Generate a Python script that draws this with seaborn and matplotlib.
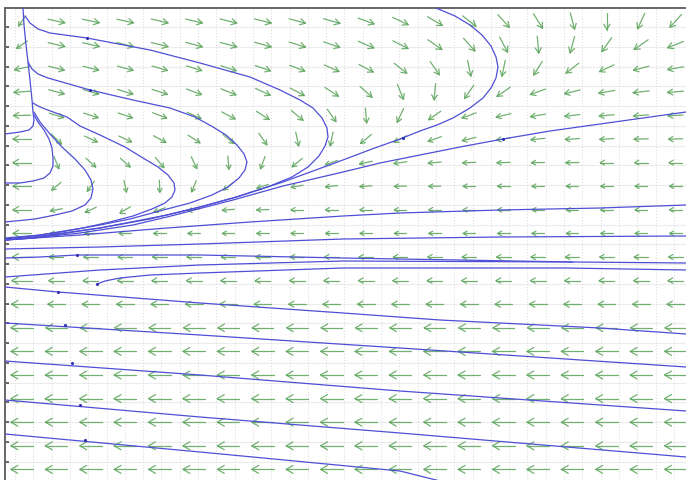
import numpy as np
import seaborn as sns
import matplotlib.pyplot as plt
from matplotlib.collections import LineCollection

sns.set_theme(style='white')

# direction field, read off the picture row by row from the top
# angle in degrees, 0 = pointing right, 90 = pointing up
ANGLES = [
    [-125, -12, -12, -12, -13, -13, -14, -14, -15, -16, -20, -25, -30, -38, -48, -58, -75, -90, -115, -132],
    [-145, -13, -13, -14, -14, -15, -15, -16, -17, -19, -23, -27, -35, -48, -62, -85, -105, -125, -145, -158],
    [-168, -14, -14, -15, -16, -17, -18, -19, -21, -24, -28, -38, -55, -78, -102, -122, -142, -155, -165, -170],
    [-176, -15, -16, -17, -18, -20, -22, -25, -28, -33, -42, -68, -95, -125, -145, -160, -166, -170, -173, -175],
    [-179, -17, -18, -19, -21, -24, -28, -33, -40, -55, -85, -115, -145, -160, -166, -170, -173, -175, -176, -177],
    [180, -45, -25, -25, -28, -33, -40, -55, -78, -102, -140, -152, -160, -166, -170, -174, -176, -177, -178, -178],
    [180, -68, -42, -42, -50, -65, -85, -110, -140, -160, -168, -172, -175, -177, -178, -179, -179, 180, 180, 180],
    [180, -140, -125, -78, -88, -112, -142, -162, -170, -174, -176, -178, -179, 180, 180, 180, 180, 180, 180, 180],
    [180, -170, -155, -150, -160, -170, -175, -178, 180, 180, 180, 180, 180, 180, 180, 180, 180, 180, 180, 180],
] + [[180] * 20 for _ in range(11)]

# arrow lengths (px) per row: first column, other columns
LEN_FIRST = [12, 13, 15, 16, 17, 18, 18, 18, 18, 18, 19, 20, 21, 22, 22, 22, 22, 22, 22, 22]
LEN_REST = [17, 17, 16, 16, 15, 14, 13, 12, 12, 12, 14, 15, 17, 21, 22, 22, 22, 22, 22, 22]

# solution curves, (x, y)
curve_big = [(25, 16), (30, 23), (38, 29), (50, 33), (87, 38), (150, 50), (200, 63), (250, 77),
             (280, 90), (300, 100), (313, 108), (322, 118), (327, 128), (328, 137), (325, 146),
             (319, 156), (308, 167), (292, 177), (270, 186), (233, 198), (200, 207), (167, 215),
             (100, 228), (60, 234), (33, 238), (5, 240)]
curve_mid = [(28, 62), (32, 69), (38, 74), (48, 78), (90, 90), (133, 100), (170, 108), (195, 117),
             (213, 127), (226, 135), (237, 145), (244, 154), (247, 162), (245, 170), (239, 178),
             (228, 187), (212, 195), (190, 203), (167, 209), (130, 219), (100, 225), (60, 232),
             (33, 236), (5, 239)]
curve_small = [(33, 103), (38, 106), (45, 109), (67, 117), (80, 126), (100, 135), (125, 147),
               (143, 158), (158, 167), (168, 175), (174, 183), (175, 190), (172, 197), (165, 203),
               (152, 209), (133, 216), (110, 222), (83, 228), (40, 235), (5, 238)]
curve_stem = [(23, 8), (24, 25), (26, 45), (28, 62), (30, 80), (32, 100), (33, 112), (34, 120),
              (33, 126), (29, 130), (20, 132), (5, 134)]
curve_hook1 = [(34, 115), (38, 122), (44, 130), (49, 139), (52, 148), (53, 158), (53, 166),
               (50, 173), (44, 178), (33, 181), (20, 183), (5, 183)]
curve_hook2 = [(34, 112), (40, 122), (50, 134), (62, 147), (75, 159), (85, 170), (91, 180),
               (93, 189), (91, 198), (85, 205), (72, 211), (55, 215), (35, 219), (5, 222)]
curve_right1 = [(686, 112), (600, 124), (550, 131), (503, 139), (460, 147), (420, 155), (380, 163),
                (343, 172), (283, 186), (233, 200), (167, 217), (133, 225), (80, 233), (33, 238), (5, 240)]
curve_right2 = [(436, 8), (455, 16), (470, 25), (482, 35), (491, 46), (496, 57), (498, 67), (496, 78),
                (491, 88), (483, 98), (470, 108), (453, 118), (437, 125), (420, 131), (400, 139),
                (372, 149), (343, 160), (283, 182), (240, 196), (200, 207), (150, 219), (100, 228),
                (33, 237), (5, 240)]
curve_right3 = [(686, 205), (600, 208), (500, 210), (400, 213), (343, 216), (250, 222), (167, 228),
                (80, 235), (5, 240)]
line_a = [(686, 236), (500, 237), (343, 239), (200, 244), (100, 247), (5, 249)]
line_b = [(686, 263), (573, 262), (343, 261), (200, 265), (100, 270), (5, 277)]
line_b2 = [(5, 258), (40, 257), (77, 255), (200, 255), (343, 258), (573, 262)]
line_c = [(97, 284), (105, 281), (120, 278), (150, 275), (200, 273), (343, 268), (566, 268), (686, 270)]
line_d = [(5, 287), (58, 292), (200, 303), (343, 313), (440, 320), (600, 328), (686, 334)]
line_e = [(5, 323), (200, 335), (400, 348), (686, 367)]
line_f = [(5, 361), (200, 375), (400, 391), (686, 411)]
line_g = [(5, 400), (200, 417), (400, 433), (686, 457)]
line_h = [(5, 434), (200, 452), (400, 471), (440, 481)]

# small direction marks seen on the curves
seeds_x = [97, 77, 87, 90, 503, 403, 58, 65, 72, 80, 85]
seeds_y = [284, 255, 38, 90, 139, 138, 292, 325, 363, 405, 440]

curves = [curve_big, curve_mid, curve_small, curve_stem, curve_hook1, curve_hook2,
          curve_right1, curve_right2, curve_right3, line_a, line_b, line_b2, line_c,
          line_d, line_e, line_f, line_g, line_h]

fig = plt.figure(figsize=(6.86, 4.80), dpi=100)
ax = fig.add_axes([5 / 686, 0, 688 / 686, 472 / 480])
ax.set_xlim(5, 693)
ax.set_ylim(480, 8)

# background grid
for gy in np.arange(27, 480, 19.75):
    ax.axhline(gy, color='#ececec', lw=0.8, zorder=0)
for gx in np.arange(15, 693, 18.3):
    ax.axvline(gx, color='#d8d8d8', lw=0.7, ls=(0, (1, 2)), zorder=0)

# direction arrows with open heads
col_x = 22 + 34.4 * np.arange(20)
row_y = 21 + 23.6 * np.arange(20)
segs = []
for r, cy in enumerate(row_y):
    for c, cx in enumerate(col_x):
        a = np.deg2rad(ANGLES[r][c])
        L = LEN_FIRST[r] if c == 0 else LEN_REST[r]
        d = np.array([np.cos(a), -np.sin(a)])
        tail = np.array([cx, cy]) - d * L / 2
        tip = np.array([cx, cy]) + d * L / 2
        segs.append([tail, tip])
        h = max(4.5, 0.36 * L)
        for s in (-1, 1):
            t = np.deg2rad(30) * s
            rot = np.array([[np.cos(t), -np.sin(t)], [np.sin(t), np.cos(t)]]) @ (-d)
            segs.append([tip, tip + rot * h])
ax.add_collection(LineCollection(segs, colors='#62a862', linewidths=0.9, alpha=0.9,
                                 capstyle='round', zorder=2))

# solution curves
for pts in curves:
    xs = [p[0] for p in pts]
    ys = [p[1] for p in pts]
    sns.lineplot(x=xs, y=ys, sort=False, estimator=None, color='#4f4fd6', lw=0.9, ax=ax, zorder=3)
sns.scatterplot(x=seeds_x, y=seeds_y, color='#3030b8', s=5, linewidth=0, ax=ax, zorder=4)

ax.set_yticks(np.arange(27, 480, 19.75))
ax.set_xticks([])
ax.tick_params(axis='y', direction='in', length=3, color='#555555', labelleft=False, left=True)
for side in ('left', 'top'):
    ax.spines[side].set_color('#666666')
    ax.spines[side].set_linewidth(1.4)
for side in ('right', 'bottom'):
    ax.spines[side].set_visible(False)
ax.set_xlabel('')
ax.set_ylabel('')

fig.savefig('out.png', dpi=100)
